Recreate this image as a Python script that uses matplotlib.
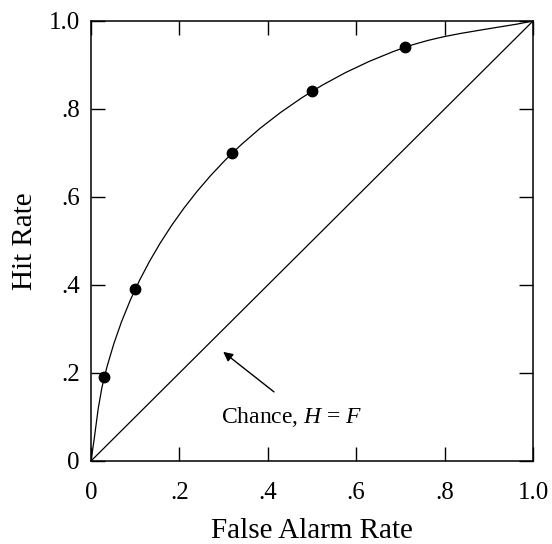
import matplotlib
matplotlib.use("Agg")
import matplotlib.pyplot as plt
import numpy as np
from matplotlib.path import Path
from matplotlib.patches import PathPatch

plt.rcParams['font.family'] = ['Liberation Serif', 'DejaVu Serif']
plt.rcParams['mathtext.fontset'] = 'custom'
plt.rcParams['mathtext.rm'] = 'Liberation Serif'
plt.rcParams['mathtext.it'] = 'Liberation Serif:italic'

# observed operating points (false alarm rate, hit rate)
false_alarm = [0.03, 0.10, 0.32, 0.50, 0.71]
hit_rate = [0.19, 0.39, 0.70, 0.84, 0.94]

tick_values = [0, 0.2, 0.4, 0.6, 0.8, 1.0]
tick_labels = ['0', '.2', '.4', '.6', '.8', '1.0']


def smooth_path(xs, ys):
    # cubic Bezier through the points, Bessel tangents for uneven spacing
    pts = np.column_stack([xs, ys])
    n = len(pts)
    seg = pts[1:] - pts[:-1]
    h = np.hypot(seg[:, 0], seg[:, 1])
    unit = seg / h[:, None]
    dirs = [unit[0]]
    for i in range(1, n - 1):
        d = (h[i] * unit[i - 1] + h[i - 1] * unit[i]) / (h[i - 1] + h[i])
        dirs.append(d / np.hypot(*d))
    dirs.append(unit[-1])
    verts = [pts[0]]
    codes = [Path.MOVETO]
    for i in range(n - 1):
        k = h[i] / 3
        verts += [pts[i] + dirs[i] * k, pts[i + 1] - dirs[i + 1] * k, pts[i + 1]]
        codes += [Path.CURVE4] * 3
    return Path(verts, codes)


fig = plt.figure(figsize=(5.52, 5.44), dpi=100)
ax = fig.add_axes([0.1649, 0.1526, 0.8007, 0.8088])

# ROC curve anchored at (0,0) and (1,1)
curve_x = [0.0] + false_alarm + [1.0]
curve_y = [0.0] + hit_rate + [1.0]
ax.add_patch(PathPatch(smooth_path(curve_x, curve_y), facecolor='none',
                       edgecolor='black', lw=0.9))
ax.plot(false_alarm, hit_rate, 'o', color='black', ms=7.5, zorder=3)

# chance diagonal
ax.plot([0, 1], [0, 1], color='black', lw=0.9)

ax.annotate('', xy=(0.299, 0.248), xytext=(0.414, 0.157),
            arrowprops=dict(arrowstyle='-|>', color='black', lw=1,
                            mutation_scale=14, shrinkA=0, shrinkB=0))
ax.text(0.455, 0.086, 'Chance, $H$ = $F$', fontsize=17, ha='center',
        va='baseline')

ax.set_xlim(0, 1)
ax.set_ylim(0, 1)
ax.set_xticks(tick_values)
ax.set_xticklabels(tick_labels)
ax.set_yticks(tick_values)
ax.set_yticklabels(tick_labels)
ax.tick_params(direction='in', length=10, width=1, top=True, right=True,
               labelsize=18)
ax.tick_params(axis='x', pad=15)
ax.tick_params(axis='y', pad=8)
for s in ax.spines.values():
    s.set_linewidth(1.1)

ax.set_xlabel('False Alarm Rate', fontsize=21, labelpad=10)
ax.set_ylabel('Hit Rate', fontsize=21, labelpad=8)

fig.savefig('out.png', dpi=100)
